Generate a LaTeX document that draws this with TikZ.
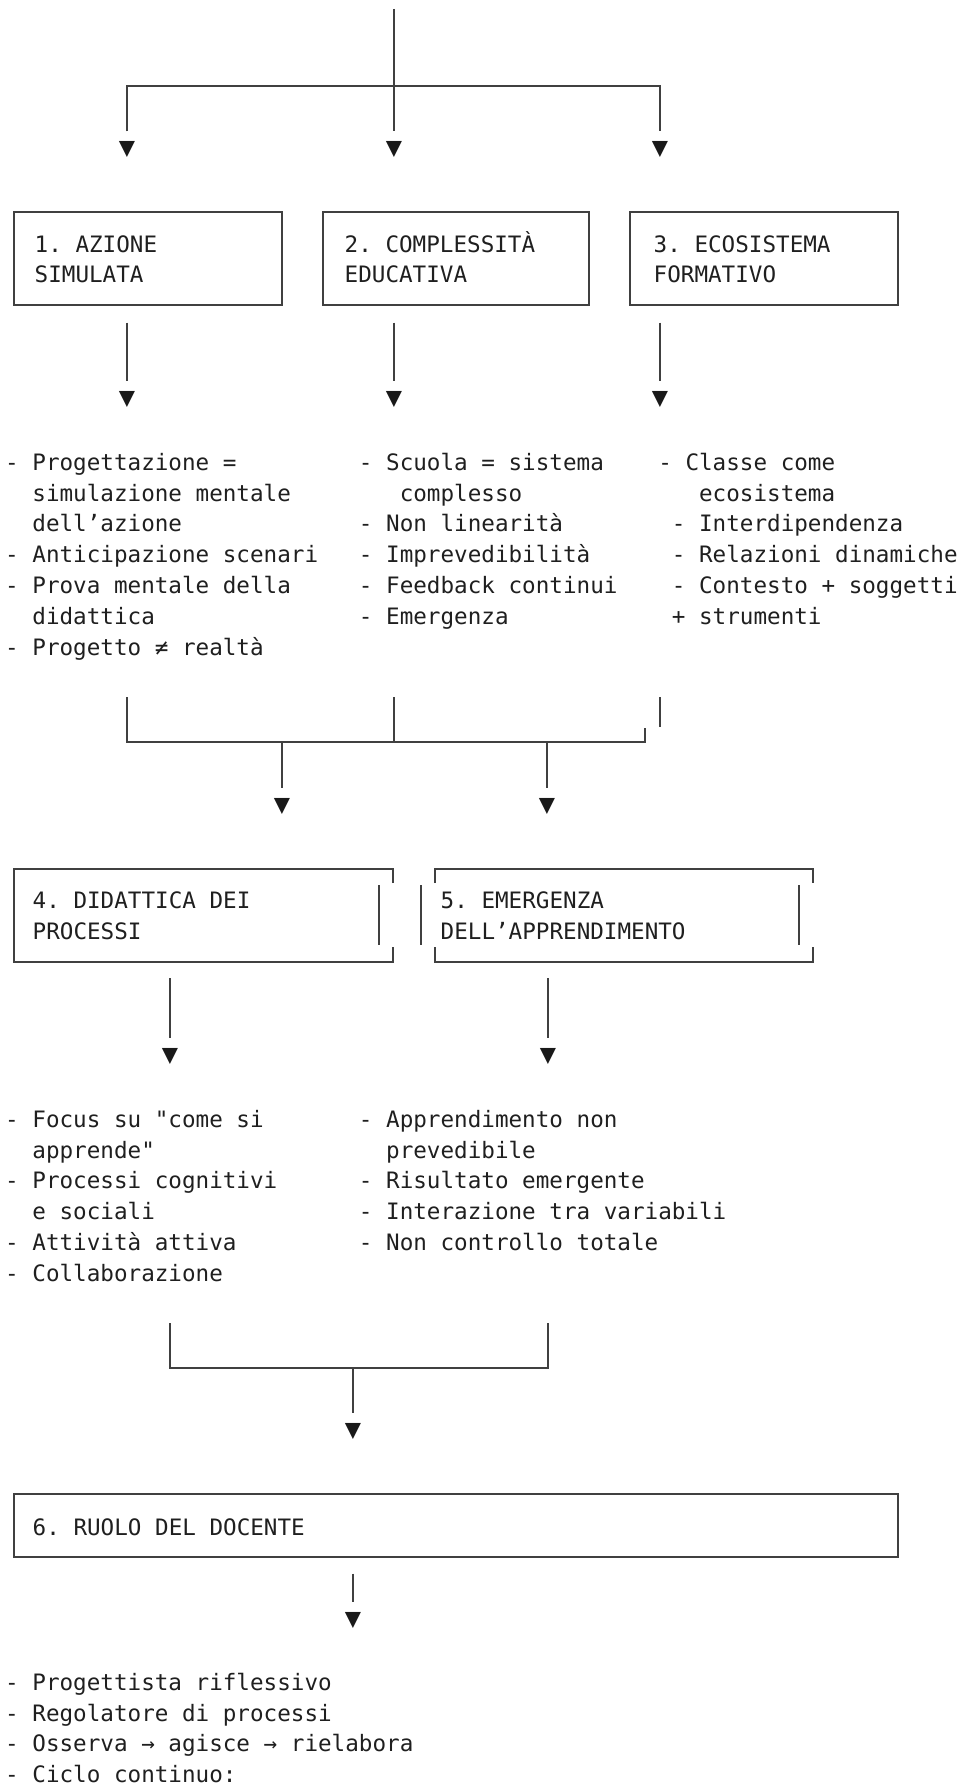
\documentclass[tikz,border=0pt]{standalone}
\usepackage{fontspec}
\newfontfamily\mono{DejaVu Sans Mono}
\newlength\cwid
\setlength\cwid{13.606pt}
\newcommand\myind[1]{\hspace*{#1\cwid}}
\begin{document}
\begin{tikzpicture}[x=1pt,y=-1pt,
  txt/.style={font=\mono\fontsize{22.6}{30.8}\selectfont\frenchspacing, text=black!88, inner sep=0pt, anchor=north west, align=left},
  box/.style={draw=black!75, line width=1.3pt, inner sep=0pt},
  ln/.style={draw=black!75, line width=1.3pt},
  tri/.style={font=\mono\fontsize{27}{30}\selectfont, text=black!90, inner sep=0pt},
]
\useasboundingbox (0,0) rectangle (963,1787);

% ---------- arrow heads ----------
\node[tri] (a1) at (127,149.5) {▼};
\node[tri] (a2) at (394,149.5) {▼};
\node[tri] (a3) at (660,149.5) {▼};
\node[tri] (a4) at (127,399) {▼};
\node[tri] (a5) at (394,399) {▼};
\node[tri] (a6) at (660,399) {▼};
\node[tri] (a7) at (282,806) {▼};
\node[tri] (a8) at (547,806) {▼};
\node[tri] (a9) at (170,1056) {▼};
\node[tri] (a10) at (548,1056) {▼};
\node[tri] (a11) at (353,1431.5) {▼};
\node[tri] (a12) at (353,1620) {▼};

% ---------- top fan ----------
\coordinate (top) at (394,9);
\coordinate (j1) at (394,86);
\draw[ln, shorten >=10pt] (top) -- (a2.north);
\draw[ln, shorten <=10pt, shorten >=10pt] (a1.north) |- (j1) -| (a3.north);

% ---------- boxes 1-3 ----------
\node[box, minimum width=268pt, minimum height=93pt] (b1) at (148,258.5) {};
\node[box, minimum width=266pt, minimum height=93pt] (b2) at (456,258.5) {};
\node[box, minimum width=268pt, minimum height=93pt] (b3) at (764,258.5) {};
\node[txt] (t1) at (34.5,230.44) {\strut 1. AZIONE\\SIMULATA};
\node[txt] (t2) at (344.5,230.44) {\strut 2. COMPLESSITÀ\\EDUCATIVA};
\node[txt] (t3) at (653.5,230.44) {\strut 3. ECOSISTEMA\\FORMATIVO};

\draw[ln, shorten <=17pt, shorten >=10pt] (a4.north |- b1.south) -- (a4.north);
\draw[ln, shorten <=17pt, shorten >=10pt] (a5.north |- b2.south) -- (a5.north);
\draw[ln, shorten <=17pt, shorten >=10pt] (a6.north |- b3.south) -- (a6.north);

% ---------- lists 1-3 ----------
\node[txt] (l1) at (5,448.44) {\strut- Progettazione =\\
\myind{2}simulazione mentale\\
\myind{2}dell’azione\\
- Anticipazione scenari\\
- Prova mentale della\\
\myind{2}didattica\\
- Progetto ≠ realtà};
\node[txt] (l2) at (358.76,448.44) {\strut- Scuola = sistema\\
\myind{3}complesso\\
- Non linearità\\
- Imprevedibilità\\
- Feedback continui\\
- Emergenza};
\node[txt] (l3) at (658.1,448.44) {\strut- Classe come\\
\myind{3}ecosistema\\
\myind{1}- Interdipendenza\\
\myind{1}- Relazioni dinamiche\\
\myind{1}- Contesto + soggetti\\
\myind{1}+ strumenti};

% ---------- merge 1 ----------
\coordinate (m1) at (127,697);
\coordinate (m2) at (394,697);
\coordinate (m3) at (660,697);
\coordinate (m3e) at (660,727);
\coordinate (m4) at (645,728);
\coordinate (h1) at (127,742);
\coordinate (h2) at (645,742);
\draw[ln] (m1) -- (h1) -- (h2) -- (m4);
\draw[ln] (m2) -- (m2 |- h1);
\draw[ln] (m3) -- (m3e);
\draw[ln, shorten >=10pt] (a7.north |- h1) -- (a7.north);
\draw[ln, shorten >=10pt] (a8.north |- h1) -- (a8.north);

% ---------- boxes 4-5 ----------
\draw[ln] (393,883) -- (393,869) -- (14,869) -- (14,962) -- (393,962) -- (393,947);
\draw[ln] (379,885) -- (379,945);
\draw[ln] (435,883) -- (435,869) -- (813,869) -- (813,883);
\draw[ln] (435,947) -- (435,962) -- (813,962) -- (813,947);
\draw[ln] (421,885) -- (421,945);
\draw[ln] (799,885) -- (799,945);
\coordinate (b4s) at (170,978);
\coordinate (b5s) at (548,978);
\node[txt] (t4) at (32.5,886.44) {\strut 4. DIDATTICA DEI\\PROCESSI};
\node[txt] (t5) at (440.5,886.44) {\strut 5. EMERGENZA\\DELL’APPRENDIMENTO};
\draw[ln, shorten >=10pt] (b4s) -- (a9.north);
\draw[ln, shorten >=10pt] (b5s) -- (a10.north);

% ---------- lists 4-5 ----------
\node[txt] (l4) at (5,1105.44) {\strut- Focus su "come si\\
\myind{2}apprende"\\
- Processi cognitivi\\
\myind{2}e sociali\\
- Attività attiva\\
- Collaborazione};
\node[txt] (l5) at (358.76,1105.44) {\strut- Apprendimento non\\
\myind{2}prevedibile\\
- Risultato emergente\\
- Interazione tra variabili\\
- Non controllo totale};

% ---------- merge 2 ----------
\coordinate (n1) at (170,1323);
\coordinate (n2) at (548,1323);
\coordinate (k1) at (170,1368);
\coordinate (k2) at (548,1368);
\draw[ln] (n1) -- (k1) -- (k2) -- (n2);
\draw[ln, shorten >=10pt] (a11.north |- k1) -- (a11.north);

% ---------- box 6 ----------
\node[box, minimum width=884pt, minimum height=63pt] (b6) at (456,1525.5) {};
\node[txt] (t6) at (32.5,1513.44) {\strut 6. RUOLO DEL DOCENTE};
\draw[ln, shorten <=16pt, shorten >=10pt] (a12.north |- b6.south) -- (a12.north);

% ---------- list 6 ----------
\node[txt] (l6) at (5,1668.44) {\strut- Progettista riflessivo\\
- Regolatore di processi\\
- Osserva → agisce → rielabora\\
- Ciclo continuo:};
\end{tikzpicture}
\end{document}
